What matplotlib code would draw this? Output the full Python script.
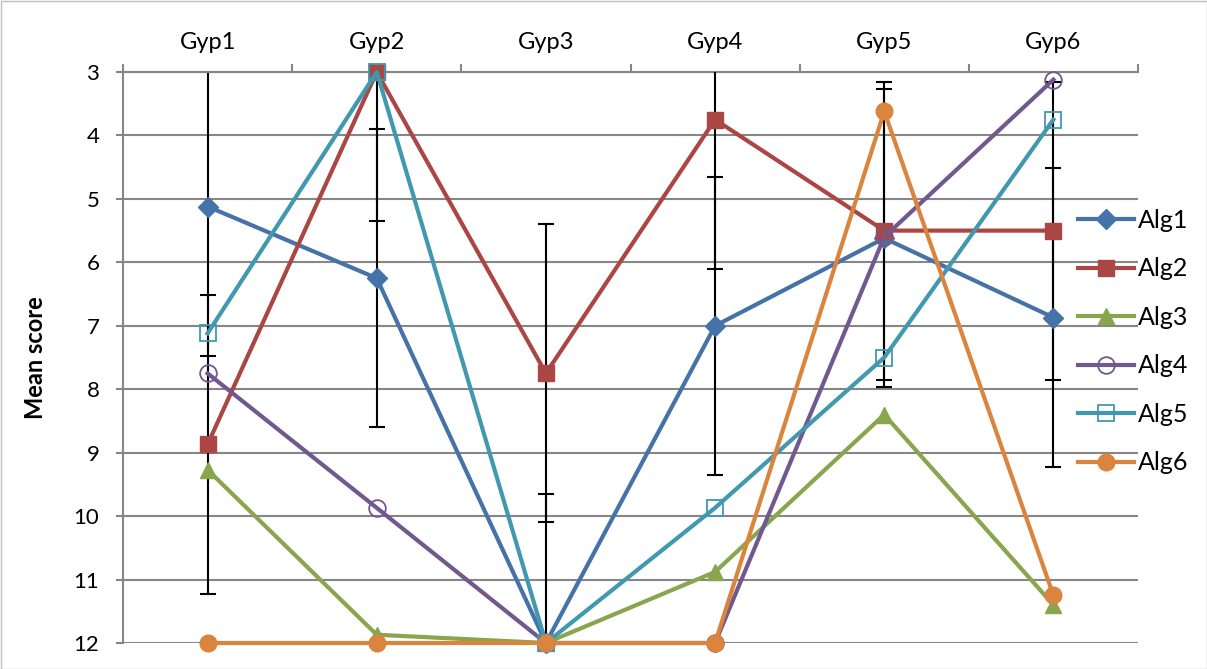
import matplotlib
matplotlib.use("Agg")
import matplotlib.pyplot as plt
import numpy as np
from matplotlib.patches import Rectangle

categories = ["Gyp1", "Gyp2", "Gyp3", "Gyp4", "Gyp5", "Gyp6"]
series_names = ["Alg1", "Alg2", "Alg3", "Alg4", "Alg5", "Alg6"]
alg1 = [5.12, 6.25, 12.0, 7.0, 5.62, 6.87]
alg2 = [8.87, 3.0, 7.75, 3.75, 5.5, 5.5]
alg3 = [9.27, 11.87, 12.0, 10.88, 8.4, 11.4]
alg4 = [7.75, 9.87, 12.0, 12.0, 5.6, 3.12]
alg5 = [7.12, 3.0, 12.0, 9.87, 7.5, 3.75]
alg6 = [12.0, 12.0, 12.0, 12.0, 3.62, 11.25]
alg1_err = [2.35, 2.35, 2.35, 2.35, 2.35, 2.35]
alg2_err = [2.35, 2.35, 2.35, 2.35, 2.35, 2.35]
y_ticks = [3, 4, 5, 6, 7, 8, 9, 10, 11, 12]

colors = ["#4572A7", "#AA4643", "#89A54E", "#71588F", "#4198AF", "#DB843D"]
markers = ["D", "s", "^", "o", "s", "o"]
filled = [True, True, True, False, False, True]
msizes = [10, 12, 12, 12, 12, 12]
values = [alg1, alg2, alg3, alg4, alg5, alg6]
errs = {0: alg1_err, 1: alg2_err}

plt.rcParams['font.family'] = ['Lato', 'DejaVu Sans']

fig = plt.figure(figsize=(12.07, 6.69), dpi=100)
ax = fig.add_axes([123/1207, 1-643/669, (1138-123)/1207, (643-72)/669])

x = np.arange(len(categories)) + 0.5
ax.set_xlim(0, len(categories))
ax.set_ylim(12, 3)

for yv in y_ticks:
    ax.axhline(yv, color="#868686", lw=1.5, zorder=1)

handles = []
for i, (name, vals) in enumerate(zip(series_names, values)):
    if i in errs:
        ax.errorbar(x, vals, yerr=errs[i], fmt="none", ecolor="black",
                    elinewidth=1.5, capsize=6, capthick=1.5, zorder=2 + i)
    mfc = colors[i] if filled[i] else "none"
    h, = ax.plot(x, vals, color=colors[i], lw=3, marker=markers[i],
                 markersize=msizes[i], markerfacecolor=mfc,
                 markeredgecolor=colors[i], markeredgewidth=1.3 if not filled[i] else 1,
                 clip_on=False, zorder=10 + i, label=name)
    handles.append(h)

ax.set_yticks(y_ticks)
ax.set_yticklabels([str(v) for v in y_ticks], fontsize=16)
ax.tick_params(axis="y", direction="out", length=5, color="#868686", width=1.5, pad=12)

ax.xaxis.tick_top()
ax.set_xticks(np.arange(len(categories) + 1))
ax.set_xticklabels([])
ax.set_xticks(x, minor=True)
ax.set_xticklabels(categories, minor=True, fontsize=17)
ax.tick_params(axis="x", which="major", direction="out", length=6, color="#868686", width=1.5)
ax.tick_params(axis="x", which="minor", length=0, pad=14)

for s in ["right", "bottom"]:
    ax.spines[s].set_visible(False)
for s in ["left", "top"]:
    ax.spines[s].set_color("#868686")
    ax.spines[s].set_linewidth(1.5)

ax.set_ylabel("Mean score", fontsize=17, fontweight="bold")
ax.yaxis.set_label_coords((47 - 123) / 1015, 0.5)

leg = fig.legend(handles=handles, loc="upper left", bbox_to_anchor=(1078/1207, 1-209/669),
                 frameon=False, fontsize=18, handlelength=2.25, labelspacing=1.02,
                 handletextpad=0.15, borderaxespad=0, borderpad=0)

fig.patches.append(Rectangle((0.5/1207, 0.5/669), 1-1/1207, 1-1/669, transform=fig.transFigure,
                             fill=False, edgecolor="#bfbfbf", lw=1))

fig.savefig("out.png", dpi=100)
